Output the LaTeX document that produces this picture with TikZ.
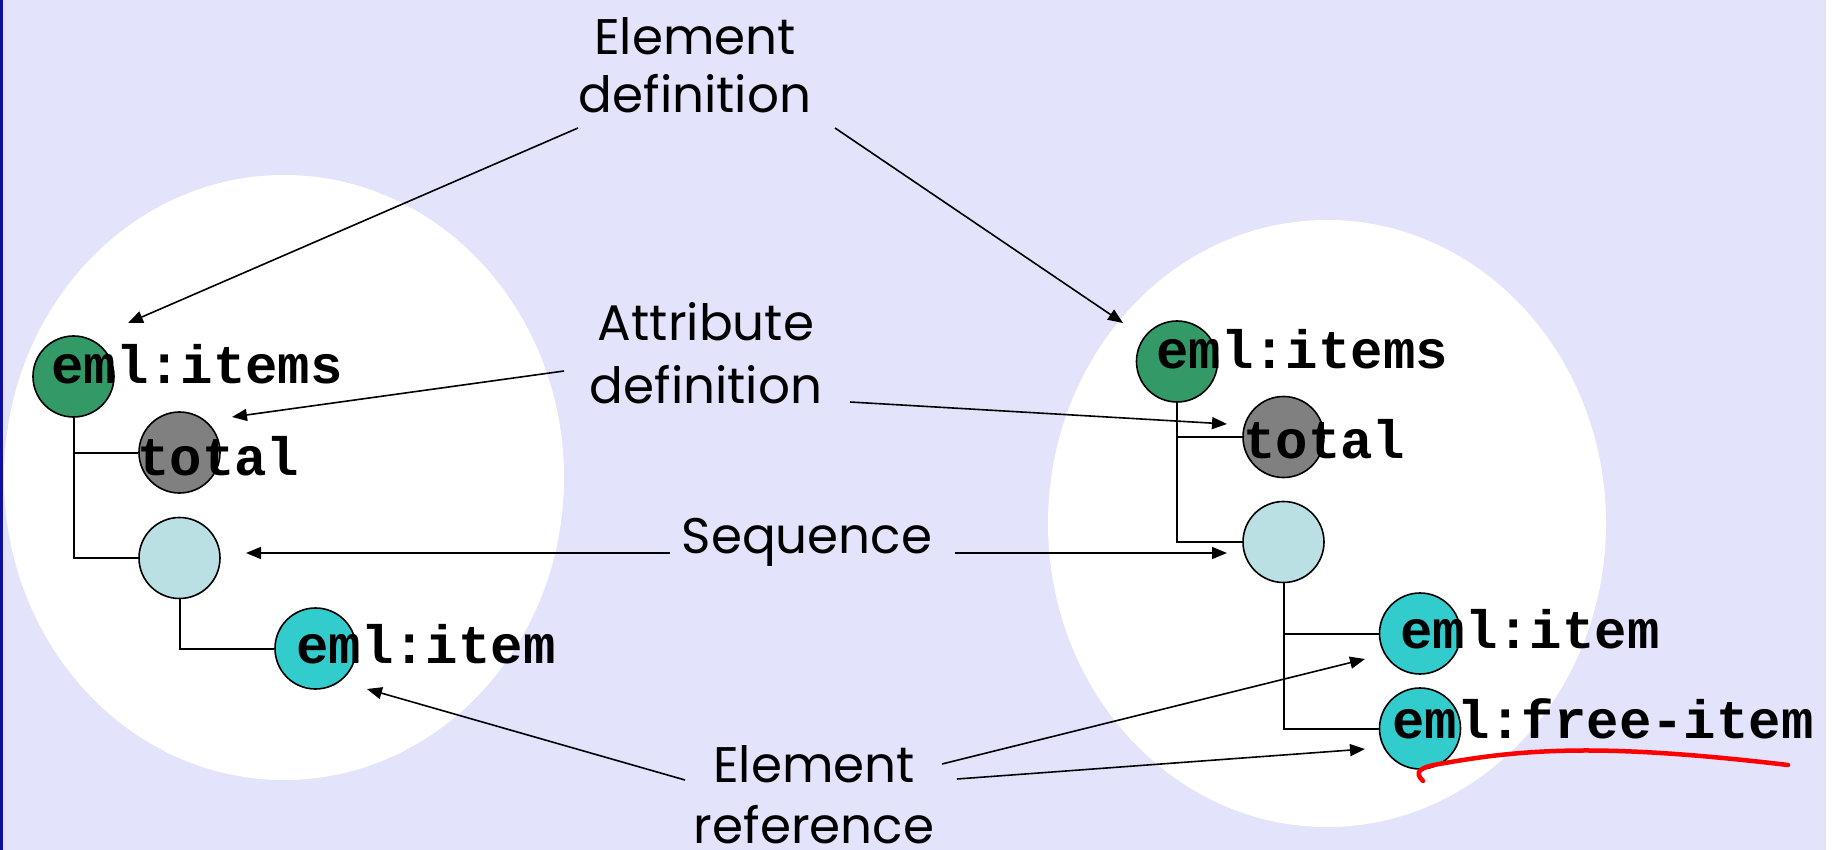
\documentclass[tikz,border=0pt]{standalone}
\usepackage{fontspec}
\usetikzlibrary{arrows.meta}
\newfontfamily\comicf{Poppins}
\newfontfamily\monof{Liberation Mono}
\definecolor{bgl}{RGB}{227,227,252}
\definecolor{edgeblue}{RGB}{16,16,160}
\definecolor{pgreen}{RGB}{51,153,102}
\definecolor{pgray}{RGB}{128,128,128}
\definecolor{plight}{RGB}{187,224,227}
\definecolor{pcyan}{RGB}{51,204,204}
\begin{document}
\begin{tikzpicture}[x=1pt,y=-1pt,
  circ/.style={circle,draw=black,line width=1.6pt,minimum size=81pt,inner sep=0pt},
  mono/.style={font=\monof\bfseries\fontsize{54}{54}\selectfont,anchor=base west,inner sep=0pt},
  lbl/.style={font=\comicf\fontsize{50}{61}\selectfont,anchor=base,inner sep=0pt},
  arr/.style={line width=1.6pt,-{Triangle[length=15pt,width=12pt]}},
  tree/.style={line width=2pt}]
\useasboundingbox (0,0) rectangle (1832,850);
% background
\fill[bgl] (0,0) rectangle (1832,850);
\fill[edgeblue] (0,0) rectangle (3,850);
\fill[white] (1826,0) rectangle (1832,850);
% white ellipses
\fill[white] (284,477.5) ellipse [x radius=280, y radius=302.5];
\fill[white] (1327,523.5) ellipse [x radius=279, y radius=303.5];
% circles
\node[circ,fill=pgreen] (g1) at (73.5,376.5) {};
\node[circ,fill=pgray]  (t1) at (179.5,452.5) {};
\node[circ,fill=plight] (s1) at (179.5,558) {};
\node[circ,fill=pcyan]  (c1) at (315.5,648.5) {};
\node[circ,fill=pgreen] (g2) at (1177,361.5) {};
\node[circ,fill=pgray]  (t2) at (1283.5,437) {};
\node[circ,fill=plight] (s2) at (1283.5,542) {};
\node[circ,fill=pcyan]  (c2) at (1420,633.5) {};
\node[circ,fill=pcyan]  (c3) at (1420,728.5) {};
% tree lines
\draw[tree] (g1.south) |- (t1.west);
\draw[tree] (g1.south) |- (s1.west);
\draw[tree] (s1.south) |- (c1.west);
\draw[tree] (g2.south) |- (t2.west);
\draw[tree] (g2.south) |- (s2.west);
\draw[tree] (s2.south) |- (c2.west);
\draw[tree] (s2.south) |- (c3.west);
% mono texts
\node[mono] (tg1) at (51,384) {eml:items};
\node[mono] (tt1) at (137,475) {total};
\node[mono] (tc1) at (296,663) {eml:item};
\node[mono] (tg2) at (1156,369) {eml:items};
\node[mono] (tt2) at (1243,458) {total};
\node[mono] (tc2) at (1400,648) {eml:item};
\node[mono] (tc3) at (1392,738) {eml:free-item};
% labels
\node[lbl] (ed1) at (695,55) {Element};
\node[lbl] (ed2) at (695,113) {definition};
\node[lbl] (ad1) at (706,341) {Attribute};
\node[lbl] (ad2) at (706,403) {definition};
\node[lbl] (sq) at (807,553) {Sequence};
\node[lbl] (er1) at (814,782) {Element};
\node[lbl] (er2) at (814,843) {reference};
% arrow coordinates
\coordinate (a1s) at (578,128);  \coordinate (a1e) at (128,323);
\coordinate (a2s) at (835,128);  \coordinate (a2e) at (1123,323);
\coordinate (a3s) at (564,371);  \coordinate (a3e) at (232,417);
\coordinate (a4s) at (850,402);  \coordinate (a4e) at (1227,424);
\coordinate (a5s) at (670,553);  \coordinate (a5e) at (246,553);
\coordinate (a6s) at (955,553);  \coordinate (a6e) at (1227,553);
\coordinate (a7s) at (685,780);  \coordinate (a7e) at (367,689);
\coordinate (a8s) at (942,764);  \coordinate (a8e) at (1365,659);
\coordinate (a9s) at (957,779);  \coordinate (a9e) at (1365,749);
\draw[arr] (a1s) -- (a1e);
\draw[arr] (a2s) -- (a2e);
\draw[arr] (a3s) -- (a3e);
\draw[arr] (a4s) -- (a4e);
\draw[arr] (a5s) -- (a5e);
\draw[arr] (a6s) -- (a6e);
\draw[arr] (a7s) -- (a7e);
\draw[arr] (a8s) -- (a8e);
\draw[arr] (a9s) -- (a9e);
% red underline
\coordinate (r0) at (1423,781);
\coordinate (r1) at (1788,765);
\draw[red,line width=4.5pt,line cap=round] (r0) .. controls (1414,772) and (1418,767) .. (1445,763)
  .. controls (1530,748) and (1610,744) .. (r1);
\end{tikzpicture}
\end{document}
